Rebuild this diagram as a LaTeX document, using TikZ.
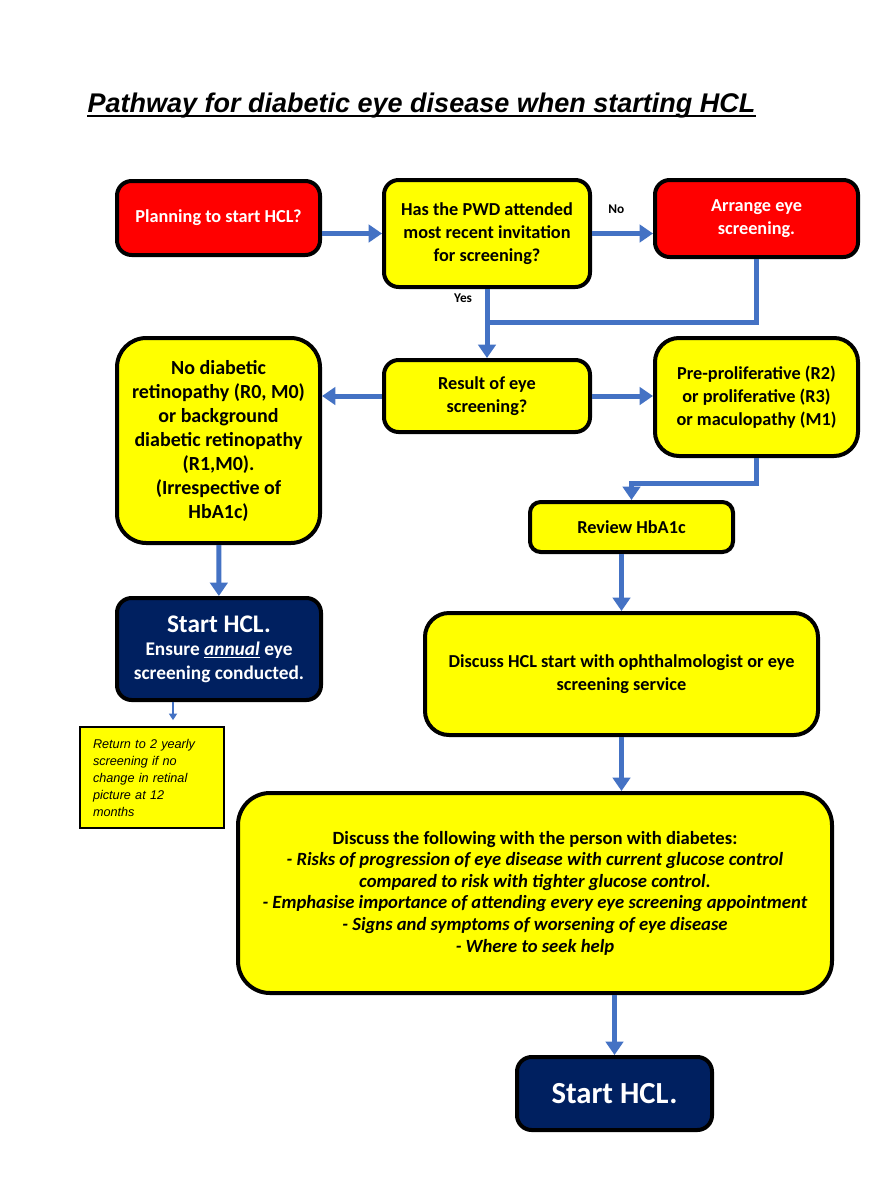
\documentclass[tikz,border=0pt]{standalone}
\usepackage{fontspec}
\setmainfont{Carlito}
\newfontfamily\arialfont{Liberation Sans}
\usetikzlibrary{arrows.meta,positioning}

\definecolor{hclred}{HTML}{FF0000}
\definecolor{hclyellow}{HTML}{FFFF00}
\definecolor{hclnavy}{HTML}{002060}
\definecolor{hclblue}{HTML}{4472C4}

\tikzset{
  box/.style={draw=black, line width=3pt, rounded corners=11pt, align=center,
    inner sep=2pt, font=\bfseries\fontsize{13.7}{17.5}\selectfont},
  redbox/.style={box, fill=hclred, text=white},
  yellowbox/.style={box, fill=hclyellow, text=black},
  navybox/.style={box, fill=hclnavy, text=white},
  notebox/.style={draw=black, line width=2.2pt, fill=hclyellow, align=left,
    text width=88.5pt, inner xsep=9.75pt, inner ysep=6pt,
    font=\arialfont\itshape\fontsize{9.5}{12.75}\selectfont},
  flow/.style={draw=hclblue, line width=3.75pt, -{Triangle[width=13pt,length=10pt]}},
  link/.style={draw=hclblue, line width=3.75pt},
  thinflow/.style={draw=hclblue, line width=2pt, -{Triangle[width=6pt,length=5pt]}},
  answer/.style={font=\bfseries\fontsize{10}{12}\selectfont},
}

\begin{document}
\begin{tikzpicture}[x=0.75pt,y=-0.75pt]
\useasboundingbox[fill=white] (0,0) rectangle (875,1200);

% title
\node[anchor=base, inner sep=0pt, font=\arialfont\bfseries\itshape\fontsize{20.25}{24}\selectfont]
  (title) at (421.5,112) {Pathway for diabetic eye disease when starting HCL};
\draw[line width=1.4pt] ([yshift=-3.2pt]title.base west) -- ([yshift=-3.2pt]title.base east);

% top row
\node[redbox, minimum width=152.25pt, minimum height=55.5pt] (plan) at (218.5,218) {Planning to start HCL?};
\node[yellowbox, minimum width=154.5pt, minimum height=80.25pt] (pwd) at (487,233.5)
  {Has the PWD attended\\most recent invitation\\for screening?};
\node[redbox, minimum width=152.25pt, minimum height=57.75pt] (arrange) at (756.5,218.5)
  {Arrange eye\\screening.};

% results row
\node[yellowbox, minimum width=154.5pt, minimum height=54pt] (result) at (487,396)
  {Result of eye\\screening?};
\node[yellowbox, rounded corners=22pt, minimum width=152.25pt, minimum height=153.75pt,
  font=\bfseries\fontsize{15}{18}\selectfont] (nodr) at (218.5,440.5)
  {No diabetic\\retinopathy (R0, M0)\\or background\\diabetic retinopathy\\(R1,M0).\\(Irrespective of\\HbA1c)};
\node[yellowbox, rounded corners=18pt, minimum width=152.25pt, minimum height=88.5pt] (prolif) at (756.5,397)
  {Pre-proliferative (R2)\\or proliferative (R3)\\or maculopathy (M1)};

% right branch
\node[yellowbox, rounded corners=8pt, minimum width=152.25pt, minimum height=37.5pt] (review) at (631.5,527) {Review HbA1c};
\node[yellowbox, rounded corners=18pt, minimum width=294.75pt, minimum height=91.5pt] (ophth) at (621.5,674)
  {Discuss HCL start with ophthalmologist or eye\\screening service};
\node[yellowbox, rounded corners=24pt, minimum width=445.5pt, minimum height=150pt,
  font=\bfseries\fontsize{14}{16.2}\selectfont] (discuss) at (535,893)
  {\rule{0pt}{8pt}Discuss the following with the person with diabetes:\\
   \textit{- Risks of progression of eye disease with current glucose control}\\
   \textit{compared to risk with tighter glucose control.}\\
   \textit{- Emphasise importance of attending every eye screening appointment}\\
   \textit{- Signs and symptoms of worsening of eye disease}\\
   \textit{- Where to seek help}};
\node[navybox, minimum width=146.25pt, minimum height=54.75pt, font=\bfseries\fontsize{23}{26}\selectfont] (startb) at (614.5,1093.5) {Start HCL.};

% left branch
\node[navybox, minimum width=153pt, minimum height=76.5pt, font=\bfseries\fontsize{14.5}{17.5}\selectfont] (startl) at (219,649)
  {{\fontsize{19}{21}\selectfont Start HCL.}\\Ensure \underline{\textit{annual}} eye\\screening conducted.};
\node[notebox, minimum width=108pt, minimum height=75.75pt] (note) at (152,777.5)
  {Return to 2 yearly\\screening if no\\change in retinal\\picture at 12\\months};

% connectors
\draw[flow] (plan.east |- pwd.west) -- (pwd.west);
\draw[flow] (pwd.east) -- node[answer, above=10pt, pos=0.4] {No} (pwd.east -| arrange.west);
\draw[flow] (pwd) -- node[answer, left=6pt, pos=0.13] {Yes} (result);
\coordinate (join) at (pwd.south |- 0,322);
\draw[link] (arrange.south) |- (join);
\draw[flow] (result.west) -- (result.west -| nodr.east);
\draw[flow] (result.east) -- (result.east -| prolif.west);
\draw[flow] (prolif.south) -- ++(0,25) -| (review.north);
\draw[flow] (review.south -| ophth.north) -- (ophth.north);
\draw[flow] (ophth.south) -- (ophth.south |- discuss.north);
\draw[flow] (startb.north |- discuss.south) -- (startb.north);
\draw[flow] (nodr) -- (startl);
\draw[thinflow, shorten >=4pt] ([xshift=-34.5pt]startl.south) -- ([xshift=15.75pt]note.north);

\end{tikzpicture}
\end{document}
